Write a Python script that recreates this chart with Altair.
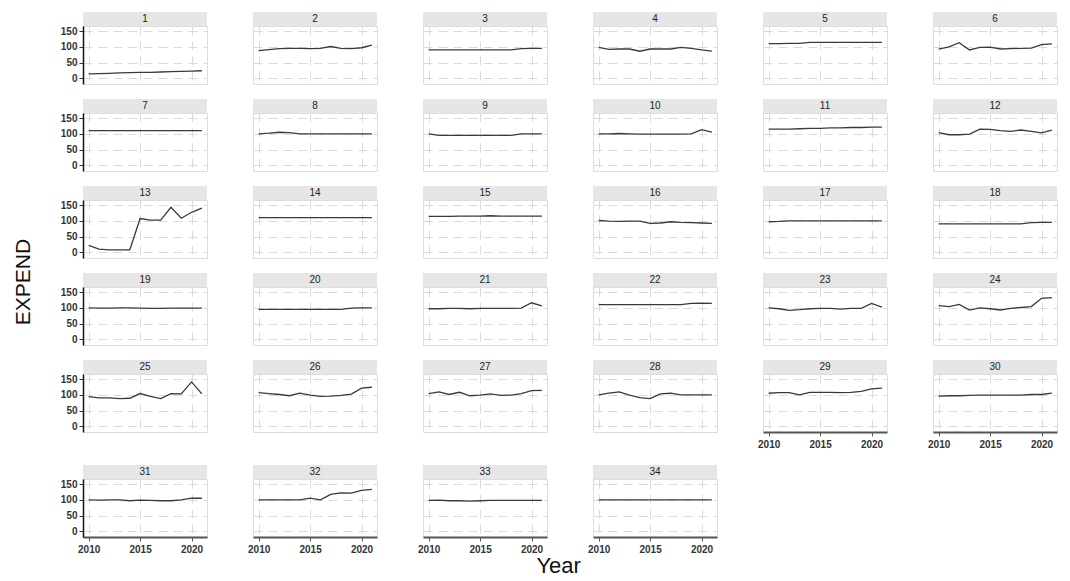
import altair as alt
import pandas as pd

years = list(range(2010, 2022))

p01 = [14, 15, 16, 17, 18, 19, 19, 20, 21, 22, 23, 24]
p02 = [88, 91, 94, 95, 95, 94, 95, 101, 95, 94, 97, 105]
p03 = [90, 90, 90, 90, 90, 90, 90, 90, 90, 94, 95, 95]
p04 = [98, 92, 93, 93, 86, 93, 93, 93, 98, 95, 90, 86]
p05 = [110, 110, 111, 111, 114, 114, 114, 114, 114, 114, 114, 114]
p06 = [93, 100, 113, 90, 98, 99, 93, 94, 95, 96, 107, 109]
p07 = [110, 110, 110, 110, 110, 110, 110, 110, 110, 110, 110, 110]
p08 = [100, 102, 105, 104, 100, 100, 100, 100, 100, 100, 100, 100]
p09 = [100, 95, 95, 95, 95, 95, 95, 95, 95, 100, 100, 100]
p10 = [100, 100, 101, 100, 99, 99, 99, 99, 99, 100, 113, 105]
p11 = [115, 115, 115, 116, 117, 117, 119, 119, 120, 120, 121, 121]
p12 = [104, 97, 97, 99, 115, 114, 110, 108, 112, 108, 103, 112]
p13 = [22, 10, 8, 8, 8, 107, 102, 102, 143, 108, 127, 140]
p14 = [110, 110, 110, 110, 110, 110, 110, 110, 110, 110, 110, 110]
p15 = [114, 114, 114, 115, 115, 115, 116, 115, 115, 115, 115, 115]
p16 = [101, 99, 98, 99, 99, 92, 93, 97, 95, 94, 93, 92]
p17 = [97, 98, 100, 100, 100, 100, 100, 100, 100, 100, 100, 100]
p18 = [90, 90, 90, 90, 90, 90, 90, 90, 90, 94, 95, 95]
p19 = [100, 99, 99, 100, 100, 99, 98, 98, 99, 99, 99, 99]
p20 = [95, 95, 95, 95, 95, 95, 95, 95, 95, 99, 100, 100]
p21 = [97, 97, 98, 98, 97, 98, 98, 98, 98, 99, 116, 106]
p22 = [110, 110, 110, 110, 110, 110, 110, 110, 110, 114, 115, 114]
p23 = [100, 97, 92, 94, 97, 98, 98, 96, 98, 98, 114, 102]
p24 = [107, 104, 111, 93, 100, 97, 93, 98, 101, 104, 130, 132]
p25 = [94, 90, 90, 88, 89, 104, 95, 88, 104, 103, 141, 103]
p26 = [107, 104, 101, 97, 105, 99, 95, 96, 98, 102, 121, 124]
p27 = [104, 109, 101, 108, 97, 99, 103, 98, 99, 104, 113, 114]
p28 = [100, 105, 109, 99, 91, 88, 103, 105, 100, 100, 100, 100]
p29 = [105, 107, 107, 100, 108, 108, 108, 107, 108, 111, 119, 121]
p30 = [96, 97, 97, 98, 99, 99, 99, 99, 99, 101, 101, 105]
p31 = [100, 99, 100, 100, 97, 99, 98, 97, 97, 100, 105, 105]
p32 = [100, 100, 100, 100, 100, 105, 100, 117, 122, 121, 130, 133]
p33 = [98, 99, 97, 97, 96, 97, 98, 98, 98, 98, 98, 98]
p34 = [100, 100, 100, 100, 100, 100, 100, 100, 100, 100, 100, 100]

panels = [p01, p02, p03, p04, p05, p06, p07, p08, p09, p10, p11, p12,
          p13, p14, p15, p16, p17, p18, p19, p20, p21, p22, p23, p24,
          p25, p26, p27, p28, p29, p30, p31, p32, p33, p34]

x_ticks = [2010, 2015, 2020]
y_ticks = [0, 50, 100, 150]

rows = []
for i, vals in enumerate(panels, start=1):
    for yr, v in zip(years, vals):
        rows.append({"id": i, "Year": yr, "EXPEND": v})
df = pd.DataFrame(rows)

W = 124
H = 58
FONT = "Liberation Sans"
NCOL = 6
N = len(panels)
GRID = dict(grid=True, gridDash=[9, 6], gridColor="#dadada", gridWidth=1)


def x_axis(show):
    if show:
        return alt.Axis(values=x_ticks, format="d", title=None,
                        domainColor="#555555", domainWidth=2,
                        tickColor="#555555", tickSize=4, tickWidth=1,
                        labelFontSize=10, labelColor="#333333",
                        labelFontWeight="bold", labelFont=FONT,
                        labelPadding=3, **GRID)
    return alt.Axis(values=x_ticks, title=None, labels=False, ticks=False,
                    domain=False, **GRID)


def y_axis(show):
    if show:
        return alt.Axis(values=y_ticks, title=None,
                        domainColor="#111111", domainWidth=1.5,
                        tickColor="#333333", tickSize=4, tickWidth=1,
                        labelFontSize=10, labelColor="#333333",
                        labelFontWeight="bold", labelFont=FONT,
                        labelPadding=2, **GRID)
    return alt.Axis(values=y_ticks, title=None, labels=False, ticks=False,
                    domain=False, **GRID)


def panel(i):
    col = (i - 1) % NCOL
    show_y = col == 0
    show_x = i > N - NCOL
    base = alt.Chart().transform_filter(alt.datum.id == i)
    line = base.mark_line(color="#3a3a3a", strokeWidth=1.3).encode(
        x=alt.X("Year:Q",
                scale=alt.Scale(domain=[2009.45, 2021.5], nice=False, zero=False),
                axis=x_axis(show_x)),
        y=alt.Y("EXPEND:Q",
                scale=alt.Scale(domain=[-18, 166], nice=False, zero=False),
                axis=y_axis(show_y)),
    )
    first = base.transform_filter(alt.datum.Year == years[0])
    strip = first.mark_rect(color="#e6e6e6", clip=False).encode(
        x=alt.value(0), x2=alt.value(W), y=alt.value(-14), y2=alt.value(0)
    )
    label = first.mark_text(fontSize=10, font=FONT, color="#222222",
                            baseline="middle", clip=False).encode(
        text="id:N", x=alt.value(W / 2), y=alt.value(-7)
    )
    return alt.layer(strip, label, line).properties(width=W, height=H)


row_charts = []
for r in range(0, N, NCOL):
    ids = list(range(r + 1, min(r + NCOL, N) + 1))
    row_charts.append(
        alt.hconcat(*[panel(i) for i in ids], spacing=46, bounds="flush")
    )

upper = alt.vconcat(*row_charts[:-1], spacing=13)
grid = alt.vconcat(upper, row_charts[-1], spacing=14).properties(
    title=alt.Title("Year", orient="bottom", fontSize=22, font=FONT,
                    fontWeight="normal", color="#111111", offset=1,
                    anchor="middle")
)

chart = alt.hconcat(grid, data=df).properties(
    title=alt.Title("EXPEND", orient="left", fontSize=21, font=FONT,
                    fontWeight="normal", color="#111111", offset=26,
                    anchor="middle", dx=12)
).configure_view(strokeWidth=0).configure(
    font=FONT, padding={"left": 4, "top": 3, "right": 2, "bottom": 0}
)

chart.save("out.html", embed_options={"renderer": "svg", "actions": False})
